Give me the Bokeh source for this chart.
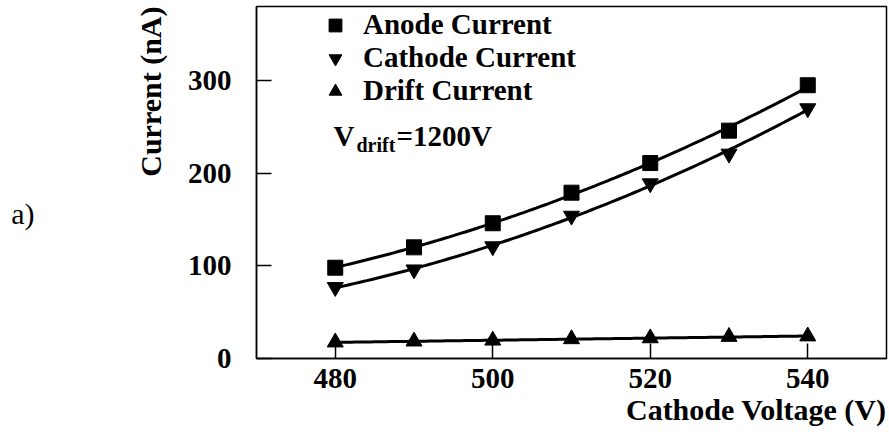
import numpy as np
from bokeh.plotting import figure
from bokeh.models import Label, Legend, LegendItem, Range1d, FixedTicker, Title, LinearAxis
from bokeh.embed import file_html
from bokeh.resources import INLINE

# ---- data ----
voltage = [480, 490, 500, 510, 520, 530, 540]
anode_current = [98, 120, 146, 179, 211, 246, 295]
cathode_current = [77, 96, 121, 154, 189, 221, 270]
drift_current = [17.5, 18.5, 19.5, 21, 22, 23.5, 24]
x_ticks = [480, 500, 520, 540]
y_ticks = [0, 100, 200, 300]
series_names = ["Anode Current", "Cathode Current", "Drift Current"]

FONT = "Liberation Serif"
FS = "29px"

p = figure(width=889, height=442,
           x_range=Range1d(470, 550), y_range=Range1d(0, 380),
           output_backend="svg", toolbar_location=None,
           min_border_left=256, min_border_right=3,
           min_border_top=6, min_border_bottom=84)
p.background_fill_color = "white"
p.border_fill_color = "white"
p.xgrid.grid_line_color = None
p.ygrid.grid_line_color = None
p.outline_line_color = "black"
p.outline_line_width = 1.5
p.outline_line_alpha = 1

# fitted curves computed from the data
xs = np.linspace(voltage[0], voltage[-1], 121)
for ys, deg in ((anode_current, 2), (cathode_current, 2), (drift_current, 1)):
    coeffs = np.polyfit(voltage, ys, deg)
    p.line(xs, np.polyval(coeffs, xs), line_width=3, line_color="black")

r_a = p.scatter(voltage, anode_current, marker="square", size=15, color="black")
r_c = p.scatter(voltage, cathode_current, marker="inverted_triangle", size=16, color="black")
r_d = p.scatter(voltage, drift_current, marker="triangle", size=16, color="black")

legend = Legend(items=[LegendItem(label=series_names[0], renderers=[r_a]),
                       LegendItem(label=series_names[1], renderers=[r_c]),
                       LegendItem(label=series_names[2], renderers=[r_d])],
                location=(62, 251), margin=0, padding=0, spacing=0,
                glyph_width=34, glyph_height=32, label_height=32,
                label_standoff=11,
                label_text_font=FONT, label_text_font_style="bold",
                label_text_font_size=FS, label_text_color="black",
                background_fill_alpha=0, border_line_alpha=0)
p.add_layout(legend)

p.xaxis.ticker = FixedTicker(ticks=x_ticks)
p.yaxis.ticker = FixedTicker(ticks=y_ticks)
for ax in (p.xaxis[0], p.yaxis[0]):
    ax.major_tick_in = 15
    ax.major_tick_out = 0
    ax.minor_tick_line_color = None
    ax.major_tick_line_color = "black"
    ax.major_tick_line_width = 1.5
    ax.axis_line_color = "black"
    ax.axis_line_width = 1.5
    ax.major_label_text_font = FONT
    ax.major_label_text_font_style = "bold"
    ax.major_label_text_font_size = FS
    ax.major_label_text_color = "black"
p.xaxis.major_label_standoff = 10
p.yaxis.major_label_standoff = 25

# axis titles
p.add_layout(Title(text="Current (nA)", align="right", text_font=FONT,
                   text_font_style="bold", text_font_size="30px",
                   text_color="black", standoff=36), "left")
p.add_layout(Title(text="Cathode Voltage (V)", align="right", text_font=FONT,
                   text_font_style="bold", text_font_size="30px",
                   text_color="black", standoff=1), "below")

# panel tag "a)" as the label of an empty extra axis
tag_axis = LinearAxis(axis_label="\na)", axis_label_orientation="horizontal",
                      ticker=FixedTicker(ticks=[]),
                      major_tick_line_color=None, minor_tick_line_color=None,
                      axis_line_color=None, major_label_text_font_size="0px",
                      axis_label_text_font=FONT, axis_label_text_font_size="30px",
                      axis_label_text_font_style="normal", axis_label_text_color="black",
                      axis_label_text_line_height=1.9,
                      axis_label_standoff=79)
p.add_layout(tag_axis, "left")

def lab(text, x, y, size=FS, style="bold", **kw):
    p.add_layout(Label(x=x, y=y, x_units="screen", y_units="screen", text=text,
                       text_font=FONT, text_font_style=style, text_font_size=size,
                       text_color="black", **kw))

# V_drift annotation
lab("V", 77, 223, text_baseline="alphabetic")
lab("drift", 100, 214, size="20px", text_baseline="alphabetic")
lab("=1200V", 140, 223, text_baseline="alphabetic")

open("out.html", "w").write(file_html(p, INLINE))
